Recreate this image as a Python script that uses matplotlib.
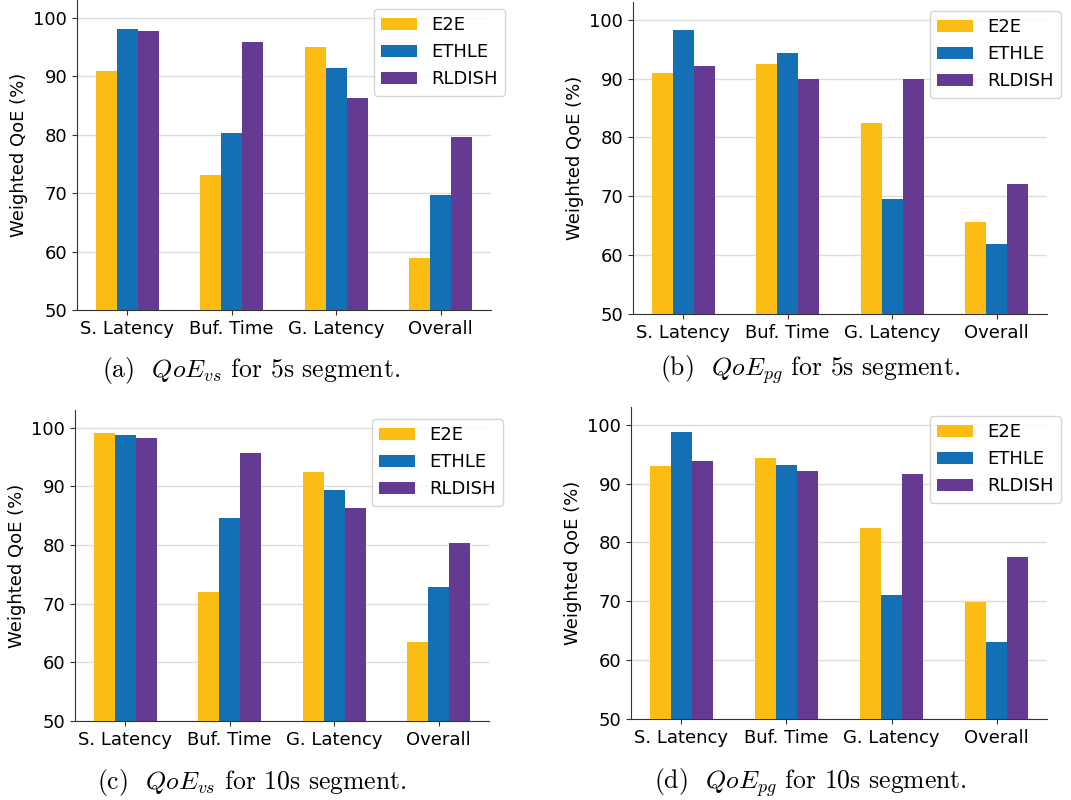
import matplotlib
matplotlib.use('Agg')
import matplotlib.pyplot as plt
import numpy as np

categories = ['S. Latency', 'Buf. Time', 'G. Latency', 'Overall']
methods = ['E2E', 'ETHLE', 'RLDISH']
colors = ['#FBBC13', '#1470B5', '#653A92']

# (a) QoE_vs, 5s segment
a_e2e = [90.8, 73.1, 94.9, 58.9]
a_ethle = [98.1, 80.2, 91.3, 69.6]
a_rldish = [97.7, 95.8, 86.2, 79.6]
# (b) QoE_pg, 5s segment
b_e2e = [90.9, 92.4, 82.5, 65.6]
b_ethle = [98.2, 94.4, 69.5, 61.9]
b_rldish = [92.2, 90.0, 90.0, 72.0]
# (c) QoE_vs, 10s segment
c_e2e = [99.0, 72.0, 92.5, 63.5]
c_ethle = [98.8, 84.6, 89.4, 72.9]
c_rldish = [98.3, 95.7, 86.3, 80.4]
# (d) QoE_pg, 10s segment
d_e2e = [92.9, 94.4, 82.5, 69.8]
d_ethle = [98.8, 93.2, 71.1, 63.1]
d_rldish = [93.9, 92.2, 91.7, 77.6]

captions = [r'(a)  $QoE_{vs}$ for 5s segment.',
            r'(b)  $QoE_{pg}$ for 5s segment.',
            r'(c)  $QoE_{vs}$ for 10s segment.',
            r'(d)  $QoE_{pg}$ for 10s segment.']

plt.rcParams['mathtext.fontset'] = 'cm'

W, H = 1071, 800
fig = plt.figure(figsize=(W / 100, H / 100), dpi=100)

# axes boxes in pixels: left, top, right, bottom
boxes = [(77, 0, 491, 310), (633, 2, 1047, 314),
         (75, 410, 489, 721), (631, 407, 1047, 719)]
data = [(a_e2e, a_ethle, a_rldish), (b_e2e, b_ethle, b_rldish),
        (c_e2e, c_ethle, c_rldish), (d_e2e, d_ethle, d_rldish)]
caption_xy = [(251, 370), (810, 370), (252, 783), (810, 783)]

x = np.arange(len(categories))
w = 0.2
for box, series, cap, (cx, cy) in zip(boxes, data, captions, caption_xy):
    l, t, r, b = box
    ax = fig.add_axes([l / W, 1 - b / H, (r - l) / W, (b - t) / H])
    for i, (vals, name, c) in enumerate(zip(series, methods, colors)):
        ax.bar(x + (i - 1) * w, vals, w, color=c, label=name, zorder=3)
    ax.set_ylim(50, 103)
    ax.set_yticks([50, 60, 70, 80, 90, 100])
    ax.set_xticks(x)
    ax.set_xticklabels(categories, fontsize=13)
    ax.tick_params(axis='y', labelsize=13)
    ax.tick_params(colors='#333333', labelcolor='black')
    ax.set_ylabel('Weighted QoE (%)', fontsize=13)
    ax.yaxis.grid(True, color='#dddddd', linewidth=1, zorder=0)
    ax.set_axisbelow(True)
    for s in ['top', 'right']:
        ax.spines[s].set_visible(False)
    for s in ['left', 'bottom']:
        ax.spines[s].set_color('#333333')
    bx = (r + 14 - l) / (r - l)
    by = 1 - 9 / (b - t)
    ax.legend(loc='upper right', bbox_to_anchor=(bx, by), borderaxespad=0,
              fontsize=13, handlelength=2.0)
    fig.text(cx / W, 1 - cy / H, cap, ha='center', va='center',
             fontsize=18.5, family='cmr10')

fig.savefig('out.png', dpi=100)
